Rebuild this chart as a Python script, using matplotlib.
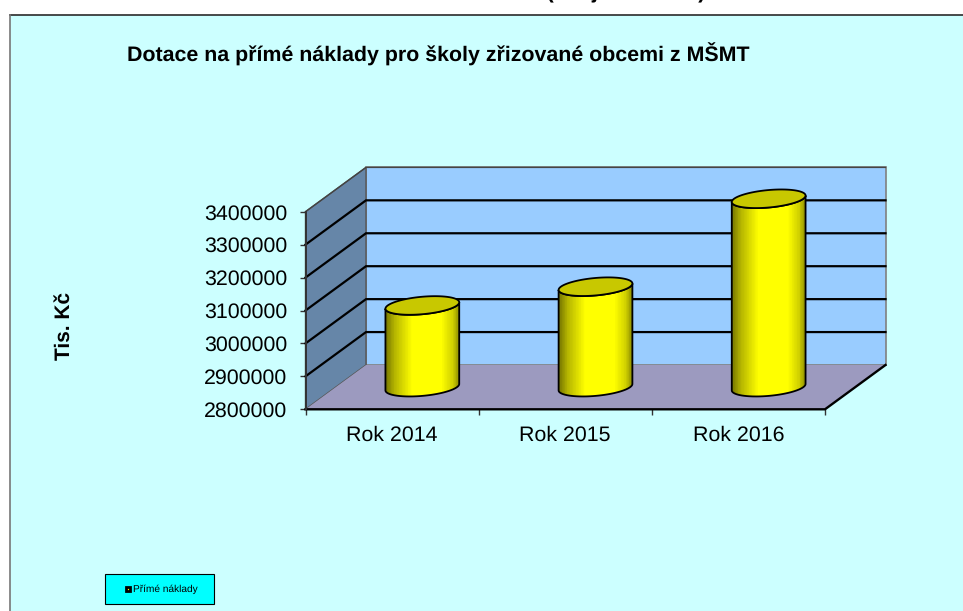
import numpy as np
import matplotlib
matplotlib.use('Agg')
import matplotlib.pyplot as plt
from matplotlib.colors import LinearSegmentedColormap
from matplotlib.lines import Line2D
from matplotlib.patches import Polygon, Rectangle

plt.rcParams['font.family'] = ['Liberation Sans', 'DejaVu Sans']
plt.rcParams['text.hinting'] = 'none'

# Data
roky = ['Rok 2014', 'Rok 2015', 'Rok 2016']
prime_naklady = [3048000, 3105000, 3372000]
y_ticks = [2800000, 2900000, 3000000, 3100000, 3200000, 3300000, 3400000]

W, H = 963, 611
Y_MIN, Y_MAX = 2800000, 3400000

# Axes box = front plane of the 3D chart, in pixels
LEFT, RIGHT, BOTTOM, TOP = 305.5, 825, 409.3, 211.7
px_x = (RIGHT - LEFT) / 3
px_y = (BOTTOM - TOP) / (Y_MAX - Y_MIN)

# Depth of the chart expressed in data units
DEPTH_X = 60.5 / px_x
DEPTH_Y = 44.3 / px_y


def pt(x, v, d=0.0):
    # oblique projection: d=0 front plane, d=1 back wall
    return x + d * DEPTH_X, v + d * DEPTH_Y


fig = plt.figure(figsize=(W / 100, H / 100), dpi=100, facecolor='white')

# Slide background and frame
fig.add_artist(Rectangle((9.5 / W, -0.01), 1, 1 - 14.5 / H + 0.01, transform=fig.transFigure,
                         facecolor='#CCFFFF', edgecolor='none', zorder=-5))
fig.add_artist(Line2D([9.5 / W, 1], [1 - 14.5 / H] * 2, transform=fig.transFigure, color='#2a2a2a', lw=1.2, zorder=-4))
fig.add_artist(Line2D([9.5 / W] * 2, [0, 1 - 14.5 / H], transform=fig.transFigure, color='#777777', lw=1.2, zorder=-4))

# Slide heading, cut off by the top edge of the picture
fig.text(705 / W, 1 + 1.5 / H, 'Graf č. 1: Dotace MŠMT 2014 – 2016 (údaje v tis. Kč)', ha='right', va='baseline',
         fontsize=15.5, fontweight='bold', color='black')

ax = fig.add_axes([LEFT / W, 1 - BOTTOM / H, (RIGHT - LEFT) / W, (BOTTOM - TOP) / H])
ax.patch.set_alpha(0)

# Walls
back_wall = [pt(0, Y_MIN, 1), pt(3, Y_MIN, 1), pt(3, Y_MAX, 1), pt(0, Y_MAX, 1)]
side_wall = [pt(0, Y_MIN, 0), pt(0, Y_MIN, 1), pt(0, Y_MAX, 1), pt(0, Y_MAX, 0)]
floor = [pt(0, Y_MIN, 0), pt(3, Y_MIN, 0), pt(3, Y_MIN, 1), pt(0, Y_MIN, 1)]
ax.add_patch(Polygon(back_wall, closed=True, facecolor='#99CCFF', edgecolor='#808080', lw=1.2, clip_on=False, zorder=1))
ax.add_patch(Polygon(side_wall, closed=True, facecolor='#6686A8', edgecolor='#555555', lw=1.0, clip_on=False, zorder=1))
ax.add_patch(Polygon(floor, closed=True, facecolor='#9C9ABF', edgecolor='none', clip_on=False, zorder=1))

# Gridlines on back and side wall
for v in y_ticks:
    if v == Y_MIN:
        continue
    lw = 1.0 if v == Y_MAX else 1.6
    col = '#444444' if v == Y_MAX else 'black'
    xs, ys = zip(pt(0, v, 0), pt(0, v, 1), pt(3, v, 1))
    ax.plot(xs, ys, color=col, lw=lw, clip_on=False, zorder=2, solid_joinstyle='miter')

# Floor edges
xs, ys = zip(pt(0, Y_MIN, 0), pt(3, Y_MIN, 0), pt(3, Y_MIN, 1))
ax.plot(xs, ys, color='black', lw=1.7, clip_on=False, zorder=2)

# Cylinders
BAR_R = 0.2
DIAM_D = 0.42
shade = LinearSegmentedColormap.from_list('valec', [(0, '#777700'), (0.12, '#B5B500'), (0.36, '#FFFF00'),
                                                    (0.76, '#FFFF00'), (0.92, '#CFCF00'), (1, '#8F8F00')])


def ring(cx, v, t):
    xo = BAR_R * np.cos(t)
    d = 0.5 + DIAM_D / 2 * np.sin(t)
    return pt(cx + xo, v, d)


for i, val in enumerate(prime_naklady):
    cx = i + 0.5
    t0 = np.arctan2(DIAM_D / 2 * DEPTH_X, BAR_R)
    t_low = np.linspace(t0, t0 - np.pi, 80)
    bx, by = ring(cx, Y_MIN, t_low)
    tx, ty = ring(cx, val, t_low[::-1])
    body = Polygon(np.column_stack([np.r_[bx, tx], np.r_[by, ty]]), closed=True, facecolor='none',
                   edgecolor='black', lw=1.3, clip_on=False, zorder=4)
    ax.add_patch(body)
    xe = np.linspace(bx.min(), bx.max(), 101)
    mesh = ax.pcolormesh(xe, [Y_MIN - DEPTH_Y, Y_MAX + DEPTH_Y], np.linspace(0, 1, 100)[None, :], cmap=shade,
                         vmin=0, vmax=1, zorder=3)
    mesh.set_clip_box(None)
    mesh.set_clip_path(body)
    fx, fy = ring(cx, val, np.linspace(0, 2 * np.pi, 160))
    ax.add_patch(Polygon(np.column_stack([fx, fy]), closed=True, facecolor='#C8C800', edgecolor='black',
                         lw=1.3, clip_on=False, zorder=5))

# Axes
ax.set_xlim(0, 3)
ax.set_ylim(Y_MIN, Y_MAX)
ax.set_xticks([0, 1, 2, 3])
ax.set_xticklabels([])
ax.set_xticks([0.5, 1.5, 2.5], labels=roky, minor=True)
ax.tick_params(axis='x', which='minor', length=0, labelsize=15.4, pad=12)
ax.tick_params(axis='x', which='major', length=4, width=1, color='#333333')
ax.set_yticks(y_ticks)
ax.set_yticklabels([str(v) for v in y_ticks])
ax.tick_params(axis='y', length=4.5, width=1, color='#333333', labelsize=15.4, pad=8.5)
for s in ['top', 'right', 'bottom']:
    ax.spines[s].set_visible(False)
ax.spines['left'].set_color('#333333')
ax.spines['left'].set_linewidth(1.4)
ax.spines['left'].set_zorder(6)

# Title and axis label
fig.text(127 / W, 1 - 62 / H, 'Dotace na přímé náklady pro školy zřizované obcemi z MŠMT', ha='left',
         va='baseline', fontsize=15.4, fontweight='bold')
fig.text(64 / W, 1 - 326 / H, 'Tis. Kč', rotation=90, ha='center', va='center', fontsize=15, fontweight='bold')

# Legend
fig.add_artist(Rectangle((105 / W, 1 - 604 / H), 109 / W, 30 / H, transform=fig.transFigure, facecolor='#00FFFF',
                         edgecolor='black', lw=0.8))
handle = Line2D([], [], linestyle='none', marker='s', markersize=3, markerfacecolor='#FFFF00',
                markeredgecolor='black', markeredgewidth=2, label='Přímé náklady')
fig.legend(handles=[handle], loc='center', bbox_to_anchor=(161 / W, 1 - 589.5 / H), frameon=False, fontsize=7.3,
           handlelength=0.7, handletextpad=0.1, borderpad=0)

fig.savefig('out.png', dpi=100)
